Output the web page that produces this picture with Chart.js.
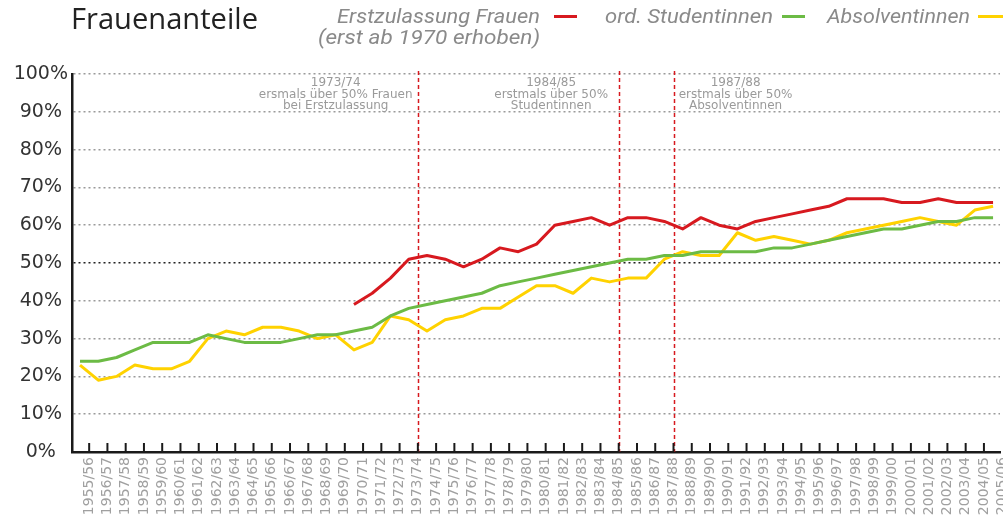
<!DOCTYPE html>
<html>
<head>
<meta charset="utf-8">
<script src="https://cdn.jsdelivr.net/npm/chart.js@4.4.0/dist/chart.umd.min.js"></script>
<style>
  html, body { margin: 0; padding: 0; background: #fff; }
</style>
</head>
<body>
<canvas id="frauen" width="1003" height="516"></canvas>
<script>
// Semester (x-Achse)
var semester = [
  "1955/56", "1956/57", "1957/58", "1958/59", "1959/60", "1960/61", "1961/62", "1962/63", "1963/64", "1964/65",
  "1965/66", "1966/67", "1967/68", "1968/69", "1969/70", "1970/71", "1971/72", "1972/73", "1973/74", "1974/75",
  "1975/76", "1976/77", "1977/78", "1978/79", "1979/80", "1980/81", "1981/82", "1982/83", "1983/84", "1984/85",
  "1985/86", "1986/87", "1987/88", "1988/89", "1989/90", "1990/91", "1991/92", "1992/93", "1993/94", "1994/95",
  "1995/96", "1996/97", "1997/98", "1998/99", "1999/00", "2000/01", "2001/02", "2002/03", "2003/04", "2004/05",
  "2005/06"
];

// Frauenanteile in %
var erstzulassung = [
  null, null, null, null, null, null, null, null, null, null,
  null, null, null, null, null, 39, 42, 46, 51, 52,
  51, 49, 51, 54, 53, 55, 60, 61, 62, 60,
  62, 62, 61, 59, 62, 60, 59, 61, 62, 63,
  64, 65, 67, 67, 67, 66, 66, 67, 66, 66,
  66
];
var studentinnen = [
  24, 24, 25, 27, 29, 29, 29, 31, 30, 29,
  29, 29, 30, 31, 31, 32, 33, 36, 38, 39,
  40, 41, 42, 44, 45, 46, 47, 48, 49, 50,
  51, 51, 52, 52, 53, 53, 53, 53, 54, 54,
  55, 56, 57, 58, 59, 59, 60, 61, 61, 62,
  62
];
var absolventinnen = [
  23, 19, 20, 23, 22, 22, 24, 30, 32, 31,
  33, 33, 32, 30, 31, 27, 29, 36, 35, 32,
  35, 36, 38, 38, 41, 44, 44, 42, 46, 45,
  46, 46, 51, 53, 52, 52, 58, 56, 57, 56,
  55, 56, 58, 59, 60, 61, 62, 61, 60, 64,
  65
];

// Markierungen (Semester-Index) und Texte
var markSemester = [18, 29, 32];
var markTexte = [
  ["1973/74", "ersmals über 50% Frauen", "bei Erstzulassung"],
  ["1984/85", "erstmals über 50%", "Studentinnen"],
  ["1987/88", "erstmals über 50%", "Absolventinnen"]
];
var markTextPos = [14.0, 25.8, 35.9];

var ROT = "#d7191f", GRUEN = "#6cbb45", GELB = "#ffd200";

function punkte(werte) {
  return werte.map(function (v, i) { return { x: i, y: v }; })
              .filter(function (p) { return p.y !== null; });
}

// text squeezed/stretched to a given width (left edge x)
function textBreit(ctx, text, x, y, breite) {
  var w = ctx.measureText(text).width;
  ctx.save();
  ctx.translate(x, y);
  ctx.scale(breite / w, 1);
  ctx.textAlign = "left";
  ctx.fillText(text, 0, 0);
  ctx.restore();
}

// extra drawing: markers, axis ticks, title and legend
var deko = {
  id: "deko",
  beforeDatasetsDraw: function (chart) {
    var ctx = chart.ctx, x = chart.scales.x, a = chart.chartArea;
    ctx.save();
    ctx.strokeStyle = ROT;
    ctx.lineWidth = 1.5;
    ctx.setLineDash([4, 3]);
    markSemester.forEach(function (m) {
      var px = Math.round(x.getPixelForValue(m + 0.5)) + 0.5;
      ctx.beginPath();
      ctx.moveTo(px, a.top - 3);
      ctx.lineTo(px, a.bottom);
      ctx.stroke();
    });
    ctx.restore();

    // Texte zu den Markierungen
    ctx.save();
    ctx.font = "12px 'DejaVu Sans'";
    ctx.textAlign = "center";
    ctx.textBaseline = "middle";
    markTexte.forEach(function (zeilen, k) {
      var px = x.getPixelForValue(markTextPos[k]);
      zeilen.forEach(function (z, j) {
        ctx.fillStyle = "#ffffff";
        var w = ctx.measureText(z).width;
        ctx.fillRect(px - w / 2 - 1, a.top + 3 + j * 11.5, w + 2, 11);
        ctx.fillStyle = "#9a9a9a";
        ctx.fillText(z, px, a.top + 9 + j * 11.5);
      });
    });
    ctx.restore();
  },
  afterDraw: function (chart) {
    var ctx = chart.ctx, x = chart.scales.x, a = chart.chartArea;
    // tick marks pointing up into the plot
    ctx.save();
    ctx.strokeStyle = "#1a1a1a";
    ctx.lineWidth = 2;
    for (var i = 0; i < semester.length; i++) {
      var px = x.getPixelForValue(i + 0.5);
      if (px > a.right + 1) break;
      ctx.beginPath();
      ctx.moveTo(px, a.bottom);
      ctx.lineTo(px, a.bottom - 9);
      ctx.stroke();
    }
    ctx.restore();

    // title
    ctx.save();
    ctx.fillStyle = "#222";
    ctx.font = "29px 'Open Sans'";
    ctx.textBaseline = "alphabetic";
    textBreit(ctx, "Frauenanteile", 71, 29, 187);

    // legend
    ctx.fillStyle = "#8a8a8a";
    ctx.font = "italic 20px Roboto";
    textBreit(ctx, "Erstzulassung Frauen", 337, 23, 203);
    textBreit(ctx, "(erst ab 1970 erhoben)", 318, 44, 222);
    textBreit(ctx, "ord. Studentinnen", 605, 23, 168);
    textBreit(ctx, "Absolventinnen", 827, 23, 143);

    ctx.lineWidth = 3;
    [[ROT, 554, 577], [GRUEN, 782, 805], [GELB, 978, 1003]].forEach(function (l) {
      ctx.strokeStyle = l[0];
      ctx.beginPath();
      ctx.moveTo(l[1], 16.5);
      ctx.lineTo(l[2], 16.5);
      ctx.stroke();
    });
    ctx.restore();
  }
};

var chart = new Chart(document.getElementById("frauen"), {
  type: "line",
  data: {
    datasets: [
      { label: "Erstzulassung Frauen", data: punkte(erstzulassung), borderColor: ROT, borderWidth: 3 },
      { label: "ord. Studentinnen", data: punkte(studentinnen), borderColor: GRUEN, borderWidth: 3 },
      { label: "Absolventinnen", data: punkte(absolventinnen), borderColor: GELB, borderWidth: 3 }
    ]
  },
  options: {
    responsive: false,
    animation: false,
    devicePixelRatio: 1,
    layout: { padding: { top: 74, right: 3, left: 0, bottom: 0 } },
    elements: {
      point: { radius: 0 },
      line: { tension: 0, borderJoinStyle: "round" }
    },
    plugins: {
      legend: { display: false },
      tooltip: { enabled: false }
    },
    scales: {
      x: {
        type: "linear",
        min: -0.44,
        max: 50.38,
        afterBuildTicks: function (scale) {
          scale.ticks = semester.map(function (s, i) { return { value: i + 0.5 }; });
        },
        afterFit: function (scale) {
          scale.height = 64;
          scale.paddingLeft = 0;
          scale.paddingRight = 0;
        },
        ticks: {
          autoSkip: false,
          minRotation: 90,
          maxRotation: 90,
          padding: 5,
          color: "#a0a0a0",
          font: { family: "'DejaVu Sans'", size: 14 },
          callback: function (v) { return semester[Math.floor(v)]; }
        },
        grid: { display: false, drawTicks: false },
        border: { display: true, color: "#1a1a1a", width: 2.5 }
      },
      y: {
        min: 0,
        max: 100,
        afterFit: function (scale) { scale.width = 72; },
        ticks: {
          stepSize: 10,
          crossAlign: "center",
          padding: 4,
          color: "#333",
          font: { family: "'DejaVu Sans'", size: 19 },
          callback: function (v) { return v + "%"; }
        },
        grid: {
          drawTicks: false,
          lineWidth: 1.5,
          color: function (c) { return c.tick && c.tick.value === 50 ? "#222" : "#9a9a9a"; }
        },
        border: { display: true, color: "#1a1a1a", width: 2.5, dash: [2, 3] }
      }
    }
  },
  plugins: [deko]
});
</script>
</body>
</html>
